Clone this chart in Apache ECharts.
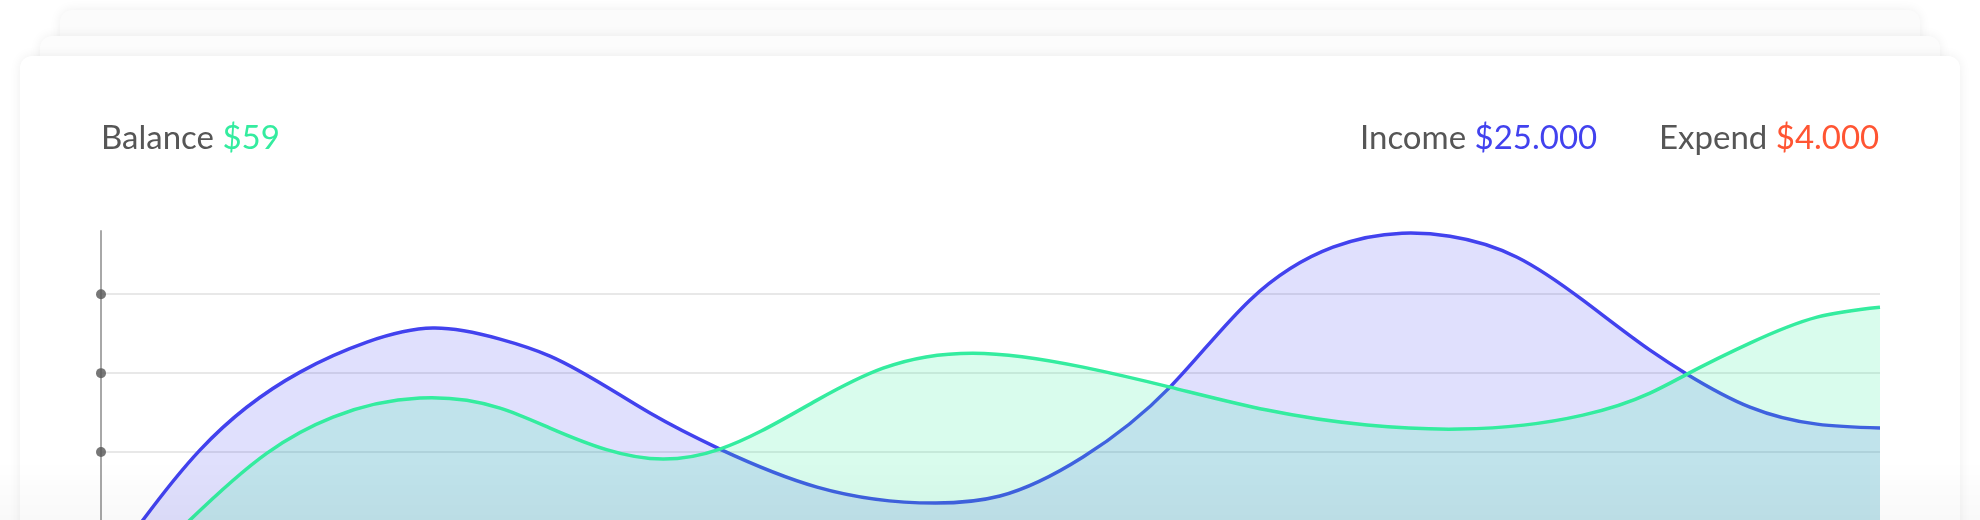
<!DOCTYPE html>
<html>
<head>
<meta charset="utf-8">
<script src="https://cdn.jsdelivr.net/npm/echarts@6/dist/echarts.min.js"></script>
<style>
  html, body { margin: 0; padding: 0; width: 1980px; height: 520px; overflow: hidden; background: #ffffff; }
  .card { position: absolute; background: #ffffff; border-radius: 12px; box-shadow: 0 0 12px rgba(0,0,0,0.07); }
  #back1 { left: 60px; top: 10px; width: 1860px; height: 600px; background: #fbfbfb; }
  #back2 { left: 40px; top: 36px; width: 1900px; height: 600px; background: #fcfcfc; }
  #front { left: 20px; top: 56px; width: 1940px; height: 600px; }
  #chart { position: absolute; left: 0; top: 0; width: 1980px; height: 700px; }
  #fade { position: absolute; left: 0; top: 460px; width: 1980px; height: 60px;
          background: linear-gradient(to bottom, rgba(0,0,0,0), rgba(0,0,0,0.025)); pointer-events: none; }
</style>
</head>
<body>
<div class="card" id="back1"></div>
<div class="card" id="back2"></div>
<div class="card" id="front"></div>
<div id="chart"></div>
<div id="fade"></div>
<script>
// ---- data (x: position along the period 0..100, y: value) ----
const incomeX = [0, 2.36, 5.56, 11.19, 14.95, 18.66, 22.43, 25.24, 30.86, 34.79, 40.25, 46.88, 50.53, 55.20, 60.09, 64.58, 69.25, 73.13, 75.83, 79.60, 83.30, 87.07, 89.15, 92.69, 96.46, 100];
const incomeY = [4.05, 11.39, 20.25, 30.13, 33.92, 35.70, 34.30, 32.15, 24.94, 20.38, 15.57, 13.54, 14.43, 19.37, 28.23, 39.24, 45.95, 47.72, 47.34, 44.68, 39.24, 32.91, 29.87, 25.70, 23.54, 23.04];
const balanceX = [0, 5.00, 9.33, 13.04, 17.93, 22.43, 25.24, 31.59, 34.79, 40.25, 43.96, 49.02, 55.20, 60.09, 65.54, 71.16, 76.39, 83.30, 87.07, 89.15, 92.69, 96.46, 100];
const balanceY = [0.25, 11.39, 19.87, 24.43, 26.84, 25.57, 23.04, 19.11, 20.38, 26.58, 30.63, 32.53, 30.76, 28.23, 25.32, 23.42, 22.91, 24.68, 27.47, 29.87, 33.80, 37.09, 38.35];
const tickDots = [20, 30, 40];
const headerBalance = ['Balance', '$59'];
const headerIncome = ['Income', '$25.000'];
const headerExpend = ['Expend', '$4.000'];

const GRAY = '#565656', GREEN = '#34ec9f', BLUE = '#4242ee', RED = '#ff5533';
const FONT = 'Lato, "Noto Sans", sans-serif';

function zip(xs, ys) { return xs.map((x, i) => [x, ys[i]]); }

// natural cubic spline (y as a function of x) through pixel points, emitted as bezier segments
function splinePath(p) {
  const n = p.length;
  const h = [], M = new Array(n).fill(0);
  for (let i = 0; i < n - 1; i++) h[i] = p[i + 1][0] - p[i][0];
  // tridiagonal system for interior second derivatives
  const a = [], b = [], c = [], r = [];
  for (let i = 1; i < n - 1; i++) {
    a.push(h[i - 1]);
    b.push(2 * (h[i - 1] + h[i]));
    c.push(h[i]);
    r.push(6 * ((p[i + 1][1] - p[i][1]) / h[i] - (p[i][1] - p[i - 1][1]) / h[i - 1]));
  }
  const k = r.length;
  for (let i = 1; i < k; i++) {
    const w = a[i] / b[i - 1];
    b[i] -= w * c[i - 1];
    r[i] -= w * r[i - 1];
  }
  const sol = new Array(k);
  for (let i = k - 1; i >= 0; i--) {
    sol[i] = (r[i] - (i < k - 1 ? c[i] * sol[i + 1] : 0)) / b[i];
  }
  for (let i = 0; i < k; i++) M[i + 1] = sol[i];
  const m = new Array(n);
  for (let i = 0; i < n - 1; i++) {
    m[i] = (p[i + 1][1] - p[i][1]) / h[i] - h[i] * (2 * M[i] + M[i + 1]) / 6;
  }
  m[n - 1] = (p[n - 1][1] - p[n - 2][1]) / h[n - 2] + h[n - 2] * (M[n - 2] + 2 * M[n - 1]) / 6;
  let d = 'M' + p[0][0] + ',' + p[0][1];
  for (let i = 0; i < n - 1; i++) {
    const dx = h[i] / 3;
    d += ' C' + (p[i][0] + dx) + ',' + (p[i][1] + dx * m[i]) + ' ' +
         (p[i + 1][0] - dx) + ',' + (p[i + 1][1] - dx * m[i + 1]) + ' ' +
         p[i + 1][0] + ',' + p[i + 1][1];
  }
  return d;
}

function curveSeries(name, xs, ys, lineColor, fillColor, z) {
  return {
    name: name, type: 'custom', z: z,
    coordinateSystem: 'cartesian2d',
    data: zip(xs, ys),
    encode: { x: 0, y: 1 },
    silent: true,
    renderItem: function (params, api) {
      if (params.dataIndex !== 0) return null;
      const pts = xs.map((x, i) => api.coord([x, ys[i]]));
      const base = api.coord([0, 0])[1];
      const d = splinePath(pts);
      const first = pts[0], last = pts[pts.length - 1];
      return {
        type: 'group',
        children: [
          { type: 'path', shape: { pathData: d + ' L' + last[0] + ',' + base + ' L' + first[0] + ',' + base + ' Z' },
            style: { fill: fillColor, stroke: 'none' } },
          { type: 'path', shape: { pathData: d },
            style: { fill: 'none', stroke: lineColor, lineWidth: 3.5, lineJoin: 'round' } }
        ]
      };
    }
  };
}

function headerTitle(pair, color, left) {
  return {
    text: '{a|' + pair[0] + '} {b|' + pair[1] + '}',
    left: left, top: 122,
    padding: 0,
    textStyle: {
      fontFamily: FONT, fontSize: 33, fontWeight: 'normal',
      rich: {
        a: { color: GRAY, fontFamily: FONT, fontSize: 33, fontWeight: 'normal' },
        b: { color: color, fontFamily: FONT, fontSize: 33, fontWeight: 'normal' }
      }
    }
  };
}

const chart = echarts.init(document.getElementById('chart'), null, { renderer: 'canvas' });
chart.setOption({
  backgroundColor: 'transparent',
  animation: false,
  title: [
    headerTitle(headerBalance, GREEN, 101),
    headerTitle(headerIncome, BLUE, 1360),
    headerTitle(headerExpend, RED, 1659)
  ],
  grid: { left: 101, right: 100, top: 231, bottom: 90 },
  xAxis: { type: 'value', min: 0, max: 100, show: false },
  yAxis: {
    type: 'value', min: 0, max: 48, interval: 10,
    axisLine: { show: true, lineStyle: { color: '#a8a8a8', width: 2 } },
    axisTick: { show: false },
    axisLabel: { show: false },
    splitLine: { show: true, showMinLine: false, showMaxLine: false, lineStyle: { color: '#e8e8e8', width: 2 } }
  },
  series: [
    curveSeries('Income', incomeX, incomeY, BLUE, 'rgba(64,64,240,0.16)', 2),
    curveSeries('Balance', balanceX, balanceY, GREEN, 'rgba(52,238,160,0.19)', 3),
    {
      name: 'ticks', type: 'scatter', data: tickDots.map(v => [0, v]),
      symbol: 'circle', symbolSize: 10, itemStyle: { color: '#555555' }, z: 5, silent: true
    }
  ]
});
</script>
</body>
</html>
